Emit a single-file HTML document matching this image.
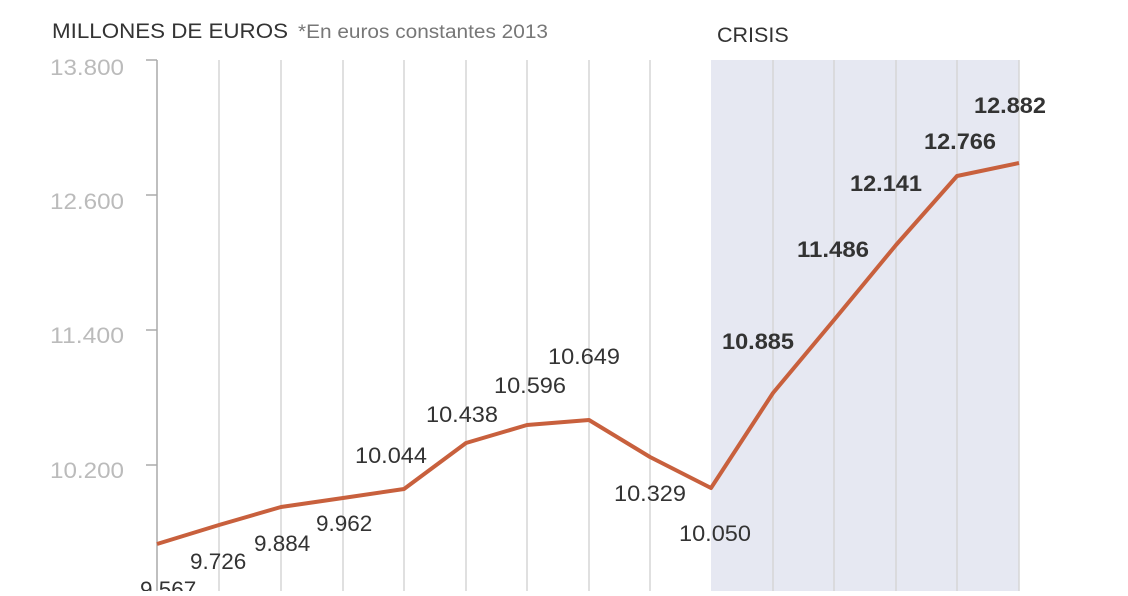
<!DOCTYPE html>
<html><head><meta charset="utf-8"><style>
body{margin:0;background:#fff;width:1128px;height:591px;overflow:hidden;font-family:"Liberation Sans",sans-serif}
</style></head><body>
<svg width="1128" height="591" xmlns="http://www.w3.org/2000/svg" font-family="Liberation Sans, sans-serif">
<rect x="711" y="60" width="308" height="531" fill="#e6e8f2"/>
<g stroke="#d6d6d6" stroke-width="1.5">
<line x1="219" y1="60" x2="219" y2="591"/><line x1="281" y1="60" x2="281" y2="591"/>
<line x1="343" y1="60" x2="343" y2="591"/><line x1="404" y1="60" x2="404" y2="591"/>
<line x1="466" y1="60" x2="466" y2="591"/><line x1="527" y1="60" x2="527" y2="591"/>
<line x1="589" y1="60" x2="589" y2="591"/><line x1="650" y1="60" x2="650" y2="591"/>
<line x1="773" y1="60" x2="773" y2="591"/><line x1="834" y1="60" x2="834" y2="591"/>
<line x1="896" y1="60" x2="896" y2="591"/><line x1="957" y1="60" x2="957" y2="591"/>
<line x1="1019" y1="60" x2="1019" y2="591"/>
</g>
<g stroke="#aaa" stroke-width="1.5" fill="none">
<line x1="157" y1="60" x2="157" y2="591"/>
<line x1="146" y1="60" x2="157" y2="60"/><line x1="146" y1="195" x2="157" y2="195"/>
<line x1="146" y1="330" x2="157" y2="330"/><line x1="146" y1="465" x2="157" y2="465"/>
</g>
<g fill="#bbb" font-size="22">
<text x="50" y="75" textLength="74" lengthAdjust="spacingAndGlyphs">13.800</text>
<text x="50" y="209" textLength="74" lengthAdjust="spacingAndGlyphs">12.600</text>
<text x="50" y="343" textLength="74" lengthAdjust="spacingAndGlyphs">11.400</text>
<text x="50" y="478" textLength="74" lengthAdjust="spacingAndGlyphs">10.200</text>
</g>
<text x="52" y="38" font-size="21" fill="#333" textLength="236" lengthAdjust="spacingAndGlyphs">MILLONES DE EUROS</text>
<text x="298" y="38" font-size="19" fill="#777" textLength="250" lengthAdjust="spacingAndGlyphs">*En euros constantes 2013</text>
<text x="717" y="42" font-size="21.5" fill="#333">CRISIS</text>
<polyline fill="none" stroke="#c8603d" stroke-width="4" stroke-linejoin="round" points="157,544 219,525 281,507 343,498 404,489 466,443 527,425 589,420 650,457 711,488 773,393 834,320 896,245 957,176 1019,163"/>
<g font-size="22.5" fill="#333">
<text x="140" y="597">9.567</text><text x="190" y="569">9.726</text>
<text x="254" y="551">9.884</text><text x="316" y="531">9.962</text>
<text x="355" y="463" textLength="72" lengthAdjust="spacingAndGlyphs">10.044</text>
<text x="426" y="422" textLength="72" lengthAdjust="spacingAndGlyphs">10.438</text>
<text x="494" y="393" textLength="72" lengthAdjust="spacingAndGlyphs">10.596</text>
<text x="548" y="364" textLength="72" lengthAdjust="spacingAndGlyphs">10.649</text>
<text x="614" y="501" textLength="72" lengthAdjust="spacingAndGlyphs">10.329</text>
<text x="679" y="541" textLength="72" lengthAdjust="spacingAndGlyphs">10.050</text>
</g>
<g font-size="22.5" fill="#333" font-weight="bold">
<text x="722" y="349" textLength="72" lengthAdjust="spacingAndGlyphs">10.885</text>
<text x="797" y="257" textLength="72" lengthAdjust="spacingAndGlyphs">11.486</text>
<text x="850" y="191" textLength="72" lengthAdjust="spacingAndGlyphs">12.141</text>
<text x="924" y="149" textLength="72" lengthAdjust="spacingAndGlyphs">12.766</text>
<text x="974" y="113" textLength="72" lengthAdjust="spacingAndGlyphs">12.882</text>
</g>
</svg>
</body></html>
